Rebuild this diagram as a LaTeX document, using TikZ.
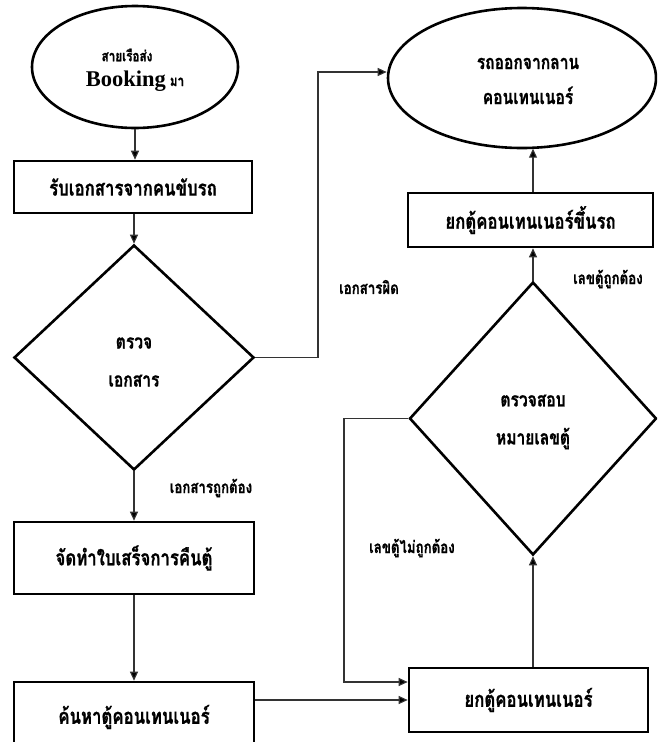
\documentclass[tikz,border=0pt]{standalone}
\usepackage{fontspec}
\usetikzlibrary{shapes.geometric,arrows.meta,calc}
\newfontfamily\thaifont[Script=Thai,FakeStretch=0.78,FakeBold=0.8]{Loma}
\newfontfamily\bkfont{Liberation Serif}
\newcommand\tboxf{\thaifont\bfseries\fontsize{21.5}{24}\selectfont}
\newcommand\tdiaf{\thaifont\bfseries\fontsize{20}{38}\selectfont}
\newcommand\tellf{\thaifont\bfseries\fontsize{20}{35}\selectfont}
\newcommand\tlabf{\thaifont\bfseries\fontsize{17}{18}\selectfont}
\newcommand\tsmf{\thaifont\bfseries\fontsize{15}{18}\selectfont}
\begin{document}
\begin{tikzpicture}[x=1pt,y=-1pt,
  box/.style={draw, line width=2.6pt, rectangle, inner sep=0pt, align=center, font=\tboxf},
  oval/.style={draw, line width=2.6pt, ellipse, inner sep=0pt, align=center},
  dia/.style={draw, line width=2.6pt, diamond, inner sep=0pt, align=center, font=\tdiaf},
  lab/.style={inner sep=0pt, font=\tlabf},
  conn/.style={draw=black!80, line width=1.1pt},
  arr/.style={conn, -{Triangle[length=9pt,width=8pt,fill=black]}}]
\useasboundingbox (0,0) rectangle (657,742);
\clip (0,0) rectangle (657,742);
% left column
\node[oval, minimum width=206pt, minimum height=122pt] (start) at (135,67) {};
\node[inner sep=0pt, font=\tsmf] (starttop) at (127,55) {สายเรือส่ง};
\node[inner sep=0pt, font=\tsmf, anchor=base] (startbot) at (135,86)
  {{\bkfont\bfseries\fontsize{22.5}{25}\selectfont Booking} มา};
\node[box, minimum width=238pt, minimum height=52pt] (b1) at (133,187) {รับเอกสารจากคนขับรถ};
\node[dia, minimum width=240pt, minimum height=225pt] (d1) at (134,357.5) {};
\node[inner sep=0pt, align=center, font=\tdiaf] (d1text) at (134,362) {ตรวจ\\เอกสาร};
\node[box, minimum width=240pt, minimum height=72pt] (b3) at (134,558) {จัดทำใบเสร็จการคืนตู้};
\node[box, minimum width=240pt, minimum height=70pt] (b4) at (134,717) {ค้นหาตู้คอนเทนเนอร์};
% right column
\node[oval, minimum width=268pt, minimum height=140pt] (e2) at (522,78) {};
\node[inner sep=0pt, align=center, font=\tellf] (e2text) at (528,81) {รถออกจากลาน\\คอนเทนเนอร์};
\node[box, minimum width=245pt, minimum height=54pt] (b5) at (530.5,220) {ยกตู้คอนเทนเนอร์ขึ้นรถ};
\node[dia, minimum width=247pt, minimum height=273pt] (d2) at (533,418.5) {};
\node[inner sep=0pt, align=center, font=\tdiaf] (d2text) at (533,422) {ตรวจสอบ\\หมายเลขตู้};
\node[box, minimum width=239pt, minimum height=64pt] (b6) at (528.5,700) {ยกตู้คอนเทนเนอร์};
% labels
\node[lab] (l1) at (369,287) {เอกสารผิด};
\node[lab] (l2) at (608,279) {เลขตู้ถูกต้อง};
\node[lab] (l3) at (211,488) {เอกสารถูกต้อง};
\node[lab] (l4) at (412,548) {เลขตู้ไม่ถูกต้อง};
% corner coordinates
\coordinate (c1) at (318,72);
\coordinate (c2) at (344,682);
% connectors
\draw[arr] (start.south) -- (b1.north -| start.south);
\draw[arr] (b1.south -| d1.north) -- (d1.north);
\draw[arr] (d1.south) -- (b3.north -| d1.south);
\draw[arr] (b3.south) -- (b4.north);
\draw[arr] (b4.east |- b6.west) -- (b6.west);
\draw[arr] (d1.east) -| (c1) -- (c1 -| e2.west);
\draw[arr] (d2.west) -| (c2) -- (c2 -| b6.west);
\draw[arr] (b6.north -| d2.south) -- (d2.south);
\draw[arr] (d2.north) -- (b5.south -| d2.north);
\draw[arr] (b5.north -| d2.north) -- ($(e2.south -| d2.north)+(0,-0.6)$);
\end{tikzpicture}
\end{document}
